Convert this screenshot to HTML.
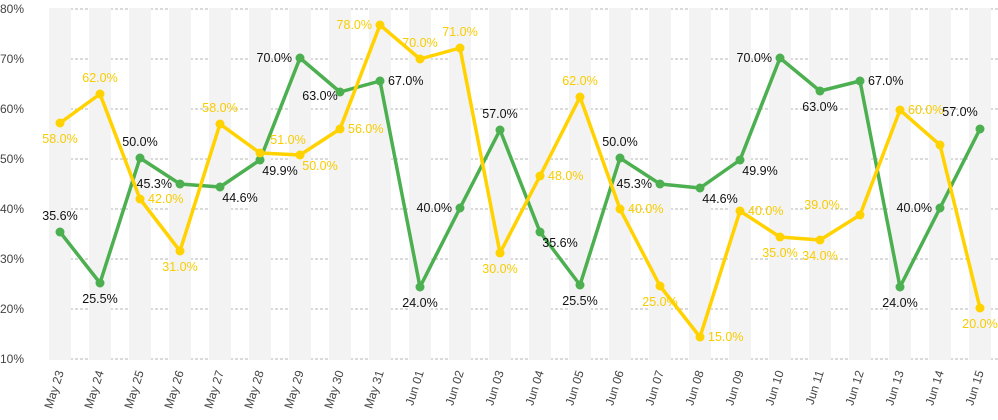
<!DOCTYPE html>
<html><head><meta charset="utf-8"><style>
body{margin:0;background:#fff;}
svg{display:block;font-family:"Liberation Sans",sans-serif;}
</style></head><body>
<svg id="c" width="998" height="420"></svg>
<script>
const categories=["May 23","May 24","May 25","May 26","May 27","May 28","May 29","May 30","May 31","Jun 01","Jun 02","Jun 03","Jun 04","Jun 05","Jun 06","Jun 07","Jun 08","Jun 09","Jun 10","Jun 11","Jun 12","Jun 13","Jun 14","Jun 15"];
const greenValues=[35.4,25.2,50.2,45,44.4,49.8,70.2,63.4,65.6,24.4,40.2,55.8,35.4,24.8,50.2,45,44.2,49.8,70.2,63.6,65.6,24.4,40.2,56];
const greenLabels=["35.6%","25.5%","50.0%","45.3%","44.6%","49.9%","70.0%","63.0%","67.0%","24.0%","40.0%","57.0%","35.6%","25.5%","50.0%","45.3%","44.6%","49.9%","70.0%","63.0%","67.0%","24.0%","40.0%","57.0%"];
const greenSides=["a","b","a","l","br","br","l","bl","r","b","l","a","br","b","a","l","br","br","l","b","r","b","l","al"];
const yellowValues=[57.2,63,42,31.6,57,51.2,50.8,56,76.8,70,72.2,31.2,46.6,62.4,40,24.6,14.4,39.6,34.4,33.8,38.8,59.8,52.8,20.2];
const yellowLabels=["58.0%","62.0%","42.0%","31.0%","58.0%","51.0%","50.0%","56.0%","78.0%","70.0%","71.0%","30.0%","48.0%","62.0%","40.0%","25.0%","15.0%","40.0%","35.0%","34.0%","39.0%","60.0%","","20.0%"];
const yellowSides=["b","a","r","b","a","ar","br","r","l","a","a","b","r","a","r","b","r","r","b","b","all","r","a","b"];
const yTicks=[10,20,30,40,50,60,70,80];

const svg=document.getElementById('c');
const NS='http://www.w3.org/2000/svg';
const x=i=>60+40*i;
const y=v=>359-(v-10)*5;
function mk(t,a,p){const e=document.createElementNS(NS,t);for(const k in a)e.setAttribute(k,a[k]);(p||svg).appendChild(e);return e;}

categories.forEach((c,i)=>{
  const r=mk('rect',{x:x(i)-11,y:9,width:22,height:350,fill:'#f3f3f3'});
  
  
});
yTicks.forEach(t=>{
  const l=mk('line',{x1:50,x2:998,y1:y(t),y2:y(t),stroke:'#b5b5b5','stroke-width':1,'stroke-dasharray':'3,2'});
  
  
  categories.forEach((c,i)=>mk('rect',{x:x(i)-11,y:y(t)-1,width:22,height:2,fill:'#f3f3f3'}));
  const tx=mk('text',{x:0,y:y(t)+4,'font-size':12,fill:'#444'});
  tx.textContent=t+'%';
  
  
});
categories.forEach((c,i)=>{
  const tx=mk('text',{x:0,y:0,'font-size':12,fill:'#444','text-anchor':'end',transform:`translate(${x(i)+4},372) rotate(-72)`});
  tx.textContent=c;
  
  
});
function series(vals,labels,sides,color,txtColor,name){
  const g=mk('g',{});
  
  
  const pl=mk('polyline',{points:vals.map((v,i)=>x(i)+','+y(v)).join(' '),fill:'none',stroke:color,'stroke-width':3.5,'stroke-linejoin':'round'},g);
  
  
  vals.forEach((v,i)=>{
    const p=mk('circle',{cx:x(i),cy:y(v),r:4.5,fill:color},g);
    
    
  });
  vals.forEach((v,i)=>{
    if(!labels[i])return;
    const s=sides[i];let dx=0,dy=0,anc='middle';
    if(s==='a'){dy=-12;}
    else if(s==='b'){dy=20;}
    else if(s==='l'){dx=-8;dy=4;anc='end';}
    else if(s==='r'){dx=8;dy=4;anc='start';}
    else if(s==='br'){dx=20;dy=15;}
    else if(s==='bl'){dx=-20;dy=8;}
    else if(s==='ar'){dx=28;dy=-9;}
    else if(s==='al'){dx=-20;dy=-13;}
    else if(s==='all'){dx=-38;dy=-6;}
    const t=mk('text',{x:x(i)+dx,y:y(v)+dy,'font-size':12.5,fill:txtColor,'text-anchor':anc},g);
    t.textContent=labels[i];
    
    
  });
}
series(greenValues,greenLabels,greenSides,'#4caf50','#111','green');
series(yellowValues,yellowLabels,yellowSides,'#ffd200','#f8cc00','yellow');
</script>
</body></html>
